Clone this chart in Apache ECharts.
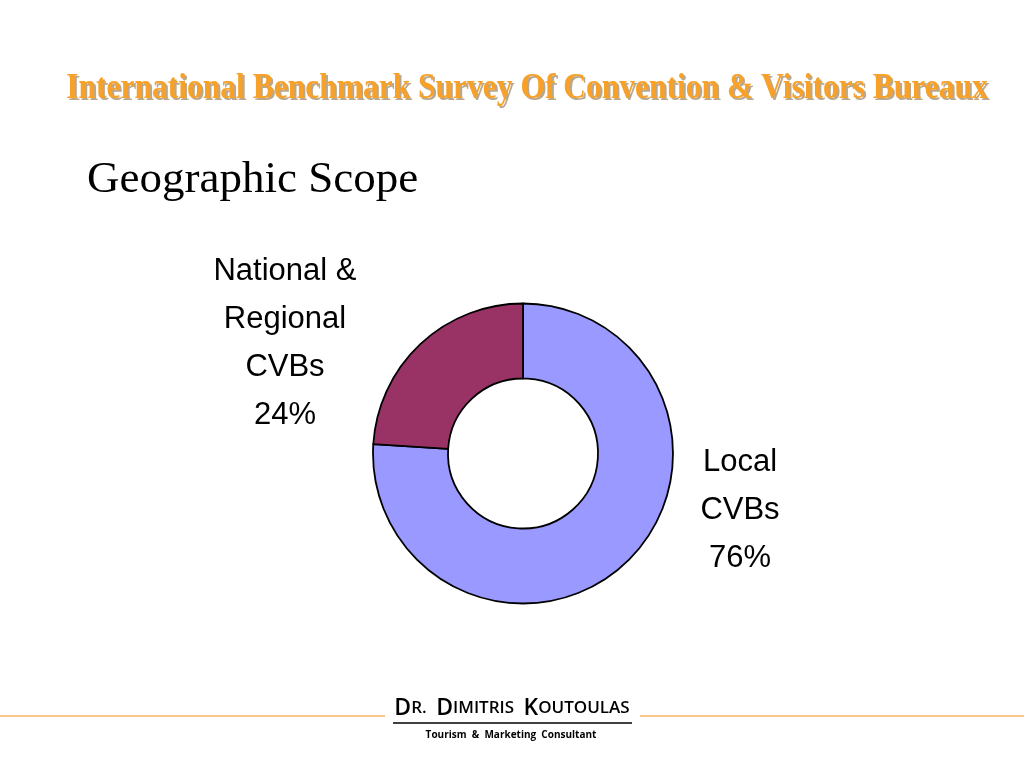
<!DOCTYPE html>
<html>
<head>
<meta charset="utf-8">
<script src="https://cdn.jsdelivr.net/npm/echarts@6/dist/echarts.min.js"></script>
<style>
html,body{margin:0;padding:0;background:#fff;}
#c{width:1024px;height:768px;}
</style>
</head>
<body>
<div id="c"></div>
<script>
var categories = ['Local\nCVBs', 'National &\nRegional\nCVBs'];
var values = [76, 24];
var colors = ['#9999FF', '#993366'];
var headerTitle = 'International Benchmark Survey Of Convention & Visitors Bureaux';
var chartTitle = 'Geographic Scope';
var footerName = [['D', 'R.'], ['D', 'IMITRIS'], ['K', 'OUTOULAS']];
var footerSub = 'Tourism  &  Marketing  Consultant';

var chart = echarts.init(document.getElementById('c'), null, {renderer: 'canvas'});

var nameRich = footerName.map(function (w) { return '{b|' + w[0] + '}{s|' + w[1] + '}'; }).join('{g|  }');

var labelPos = [
  {x: 740, y: 510},
  {x: 285, y: 343}
];

var titleFont = 'bold 31.5px "Liberation Serif", "Times New Roman", serif';

var option = {
  backgroundColor: '#ffffff',
  animation: false,
  graphic: [
    {
      type: 'text', x: 529, y: 91, scaleY: 1.15,
      style: {text: headerTitle, fill: '#b8a890', font: titleFont, align: 'center', verticalAlign: 'middle'}
    },
    {
      type: 'text', x: 527, y: 89, scaleY: 1.15,
      style: {text: headerTitle, fill: '#F7A128', font: titleFont, align: 'center', verticalAlign: 'middle'}
    },
    {
      type: 'text', x: 87, y: 180,
      style: {text: chartTitle, fill: '#000000', font: '45px "Liberation Serif", "Times New Roman", serif', align: 'left', verticalAlign: 'middle'}
    },
    {
      type: 'line', shape: {x1: 0, y1: 716, x2: 385, y2: 716},
      style: {stroke: '#F7B568', lineWidth: 1.5}
    },
    {
      type: 'line', shape: {x1: 640, y1: 716, x2: 1024, y2: 716},
      style: {stroke: '#F7B568', lineWidth: 1.5}
    },
    {
      type: 'text', x: 512, y: 720,
      style: {
        text: nameRich, align: 'center', verticalAlign: 'bottom',
        rich: {
          b: {fontSize: 23, fontFamily: '"Open Sans", "DejaVu Sans", sans-serif', fill: '#000', color: '#000', fontWeight: 600},
          s: {fontSize: 17, fontFamily: '"Open Sans", "DejaVu Sans", sans-serif', fill: '#000', color: '#000', fontWeight: 600},
          g: {fontSize: 17}
        }
      }
    },
    {
      type: 'line', shape: {x1: 393, y1: 723, x2: 632, y2: 723},
      style: {stroke: '#000', lineWidth: 1.5}
    },
    {
      type: 'text', x: 511, y: 735,
      style: {text: footerSub, fill: '#000', font: 'bold 10px "Open Sans", "DejaVu Sans", sans-serif', align: 'center', verticalAlign: 'middle'}
    }
  ],
  series: [{
    type: 'pie',
    center: [523, 453.5],
    radius: [75, 150],
    startAngle: 90,
    clockwise: true,
    avoidLabelOverlap: false,
    itemStyle: {borderColor: '#000', borderWidth: 1.8},
    label: {
      show: true,
      position: 'outside',
      formatter: function (p) { return p.name + '\n' + p.value + '%'; },
      fontFamily: '"Liberation Sans", Arial, sans-serif',
      fontSize: 31,
      lineHeight: 48,
      color: '#000',
      align: 'center'
    },
    labelLine: {show: false},
    labelLayout: function (p) {
      var pos = labelPos[p.dataIndex];
      return {x: pos.x, y: pos.y, align: 'center', verticalAlign: 'middle'};
    },
    emphasis: {disabled: true},
    data: categories.map(function (c, i) {
      return {name: c, value: values[i], itemStyle: {color: colors[i]}};
    })
  }]
};
chart.setOption(option);
</script>
</body>
</html>
